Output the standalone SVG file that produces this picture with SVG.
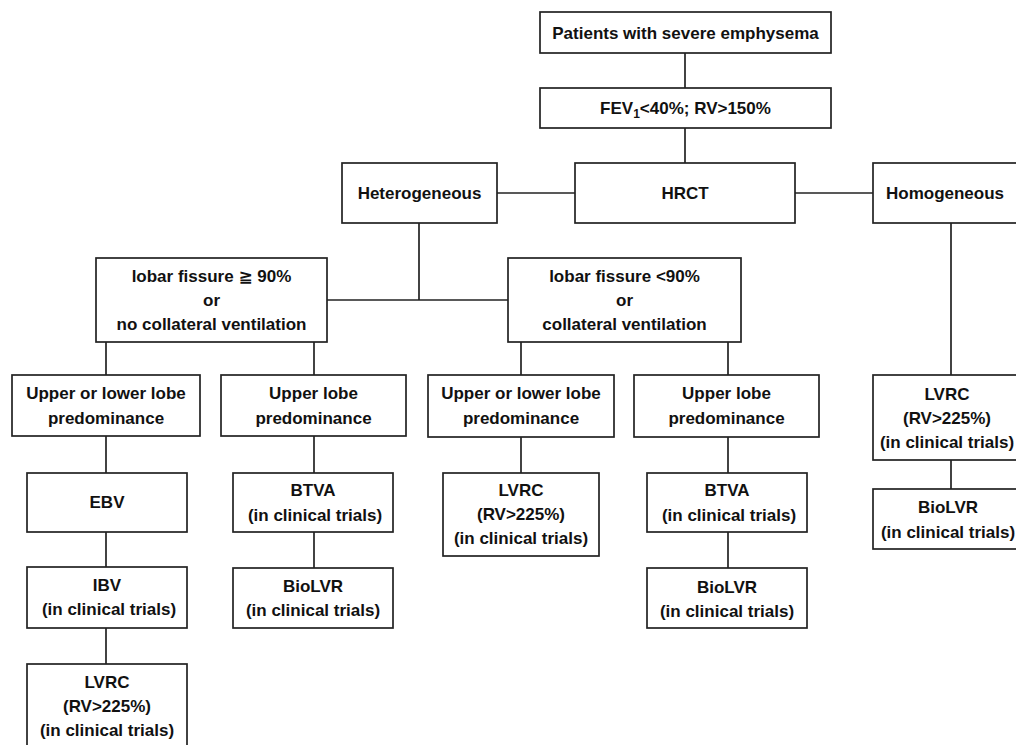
<svg xmlns="http://www.w3.org/2000/svg" width="1016" height="745" viewBox="0 0 1016 745">
<style>
rect{fill:#fff;stroke:#222;stroke-width:1.7}
line{stroke:#222;stroke-width:1.7}
text{font-family:"Liberation Sans","DejaVu Sans",Arial,sans-serif;font-weight:bold;font-size:17px;fill:#111;text-anchor:middle}
</style>
<rect x="0" y="0" width="1016" height="745" style="stroke:none"/>
<g id="connectors">
<line x1="685" y1="53" x2="685" y2="88"/>
<line x1="685" y1="128" x2="685" y2="163"/>
<line x1="497" y1="193" x2="575" y2="193"/>
<line x1="795" y1="193" x2="873" y2="193"/>
<line x1="419" y1="223" x2="419" y2="300"/>
<line x1="327" y1="300" x2="508" y2="300"/>
<line x1="951" y1="223" x2="951" y2="375"/>
<line x1="106" y1="342" x2="106" y2="375"/>
<line x1="314" y1="342" x2="314" y2="375"/>
<line x1="521" y1="342" x2="521" y2="375"/>
<line x1="728" y1="342" x2="728" y2="375"/>
<line x1="106" y1="436" x2="106" y2="473"/>
<line x1="106" y1="532" x2="106" y2="567"/>
<line x1="106" y1="628" x2="106" y2="664"/>
<line x1="314" y1="436" x2="314" y2="473"/>
<line x1="314" y1="532" x2="314" y2="568"/>
<line x1="521" y1="437" x2="521" y2="473"/>
<line x1="728" y1="437" x2="728" y2="473"/>
<line x1="728" y1="532" x2="728" y2="568"/>
<line x1="951" y1="460" x2="951" y2="489"/>
</g>
<g id="patients"><rect x="540" y="12" width="291" height="41"/><text x="685.5" y="38.5">Patients with severe emphysema</text></g>
<g id="fev"><rect x="540" y="88" width="291" height="40"/><text x="685.5" y="114">FEV<tspan font-size="12" dy="4">1</tspan><tspan dy="-4">&lt;40%; RV&gt;150%</tspan></text></g>
<g id="hrct"><rect x="575" y="163" width="220" height="60"/><text x="685" y="199">HRCT</text></g>
<g id="heterogeneous"><rect x="342" y="163" width="155" height="60"/><text x="419.5" y="199">Heterogeneous</text></g>
<g id="homogeneous"><rect x="873" y="163" width="146" height="60"/><text x="945" y="199">Homogeneous</text></g>
<g id="lobar1"><rect x="96" y="258" width="231" height="84"/><text x="211.5" y="282">lobar fissure ≧ 90%</text><text x="211.5" y="306">or</text><text x="211.5" y="330">no collateral ventilation</text></g>
<g id="lobar2"><rect x="508" y="258" width="233" height="84"/><text x="624.5" y="282">lobar fissure &lt;90%</text><text x="624.5" y="306">or</text><text x="624.5" y="330">collateral ventilation</text></g>
<g id="ul1"><rect x="12" y="375" width="188" height="61"/><text x="106" y="399">Upper or lower lobe</text><text x="106" y="424">predominance</text></g>
<g id="up1"><rect x="221" y="375" width="185" height="61"/><text x="313.5" y="399">Upper lobe</text><text x="313.5" y="424">predominance</text></g>
<g id="ul2"><rect x="428" y="375" width="186" height="62"/><text x="521" y="399">Upper or lower lobe</text><text x="521" y="424">predominance</text></g>
<g id="up2"><rect x="634" y="375" width="185" height="62"/><text x="726.5" y="399">Upper lobe</text><text x="726.5" y="424">predominance</text></g>
<g id="lvrcR"><rect x="873" y="375" width="146" height="85"/><text x="947" y="400">LVRC</text><text x="947" y="424">(RV&gt;225%)</text><text x="947" y="448">(in clinical trials)</text></g>
<g id="ebv"><rect x="27" y="473" width="160" height="59"/><text x="107" y="508">EBV</text></g>
<g id="ibv"><rect x="27" y="567" width="160" height="61"/><text x="107" y="591">IBV</text><text x="109" y="615">(in clinical trials)</text></g>
<g id="lvrcL"><rect x="27" y="664" width="160" height="84"/><text x="107" y="688">LVRC</text><text x="107" y="712">(RV&gt;225%)</text><text x="107" y="736">(in clinical trials)</text></g>
<g id="btva1"><rect x="233" y="473" width="160" height="59"/><text x="313" y="496">BTVA</text><text x="315" y="521">(in clinical trials)</text></g>
<g id="biolvr1"><rect x="233" y="568" width="160" height="60"/><text x="313" y="592">BioLVR</text><text x="313" y="616">(in clinical trials)</text></g>
<g id="lvrcM"><rect x="443" y="473" width="156" height="83"/><text x="521" y="496">LVRC</text><text x="521" y="520">(RV&gt;225%)</text><text x="521" y="544">(in clinical trials)</text></g>
<g id="btva2"><rect x="647" y="473" width="160" height="59"/><text x="727" y="496">BTVA</text><text x="729" y="521">(in clinical trials)</text></g>
<g id="biolvr2"><rect x="647" y="568" width="160" height="60"/><text x="727" y="592.5">BioLVR</text><text x="727" y="616.5">(in clinical trials)</text></g>
<g id="biolvrR"><rect x="873" y="489" width="146" height="60"/><text x="948" y="513">BioLVR</text><text x="948" y="538">(in clinical trials)</text></g>
</svg>
